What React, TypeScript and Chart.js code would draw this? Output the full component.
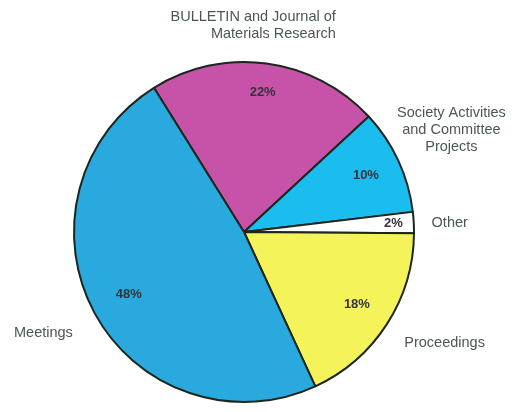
import React, { useEffect, useRef } from "react";
import { Chart, registerables } from "chart.js";

Chart.register(...registerables);

const categories = [
  "BULLETIN and Journal of Materials Research",
  "Society Activities and Committee Projects",
  "Other",
  "Proceedings",
  "Meetings",
];
const values = [22, 10, 2, 18, 48];
const percentLabels = ["22%", "10%", "2%", "18%", "48%"];
const outerLabelLines = [
  ["BULLETIN and Journal of", "Materials Research"],
  ["Society Activities", "and Committee", "Projects"],
  ["Other"],
  ["Proceedings"],
  ["Meetings"],
];
const colors = ["#c653a8", "#1bbcee", "#ffffff", "#f4f45a", "#2aa9de"];

// label placement (relative to pie centre, in units of radius)
const pctRadius = [0.83, 0.79, 0.88, 0.79, 0.77];
const outerPlacement = [
  { dx: 0.54, dy: -1.265, align: "right" as CanvasTextAlign, lh: 0.1 },
  { dx: 1.22, dy: -0.7, align: "center" as CanvasTextAlign, lh: 0.1 },
  { dx: 1.21, dy: -0.055, align: "center" as CanvasTextAlign, lh: 0.1 },
  { dx: 1.18, dy: 0.65, align: "center" as CanvasTextAlign, lh: 0.1 },
  { dx: -1.18, dy: 0.595, align: "center" as CanvasTextAlign, lh: 0.1 },
];

const labelPlugin = {
  id: "labelPlugin",
  afterDatasetsDraw(chart: any) {
    const ctx = chart.ctx;
    const meta = chart.getDatasetMeta(0);
    ctx.save();
    meta.data.forEach((arc: any, i: number) => {
      const { x, y, startAngle, endAngle, outerRadius } = arc.getProps(
        ["x", "y", "startAngle", "endAngle", "outerRadius"],
        true
      );
      const mid = (startAngle + endAngle) / 2;
      const f = pctRadius[i];
      const px = x + Math.cos(mid) * outerRadius * f;
      const py = y + Math.sin(mid) * outerRadius * f;
      ctx.font = "bold 13px 'Liberation Sans', Arial, sans-serif";
      ctx.fillStyle = "#33333d";
      ctx.textAlign = "center";
      ctx.textBaseline = "middle";
      ctx.fillText(percentLabels[i], px, py);

      const p = outerPlacement[i];
      const lines = outerLabelLines[i];
      ctx.font = "14.5px 'Liberation Sans', Arial, sans-serif";
      ctx.fillStyle = "#4c5750";
      ctx.textAlign = p.align;
      lines.forEach((ln: string, k: number) => {
        ctx.fillText(
          ln,
          x + p.dx * outerRadius,
          y + (p.dy + k * p.lh) * outerRadius
        );
      });
    });
    ctx.restore();
  },
};

export default function App() {
  const ref = useRef<HTMLCanvasElement>(null);
  useEffect(() => {
    if (!ref.current) return;
    const chart = new Chart(ref.current, {
      type: "pie",
      data: {
        labels: categories,
        datasets: [
          {
            data: values,
            backgroundColor: colors,
            borderColor: "#1c261c",
            borderWidth: 2,
          },
        ],
      },
      options: {
        responsive: false,
        animation: false,
        rotation: -32,
        layout: { padding: { left: 73, right: 101, top: 61, bottom: 9 } },
        plugins: {
          legend: { display: false },
          tooltip: { enabled: false },
        },
      },
      plugins: [labelPlugin],
    });
    return () => chart.destroy();
  }, []);
  return (
    <div style={{ position: "absolute", left: 0, top: 0, width: 516, height: 412, background: "#fff" }}>
      <canvas ref={ref} width={516} height={412} />
    </div>
  );
}
